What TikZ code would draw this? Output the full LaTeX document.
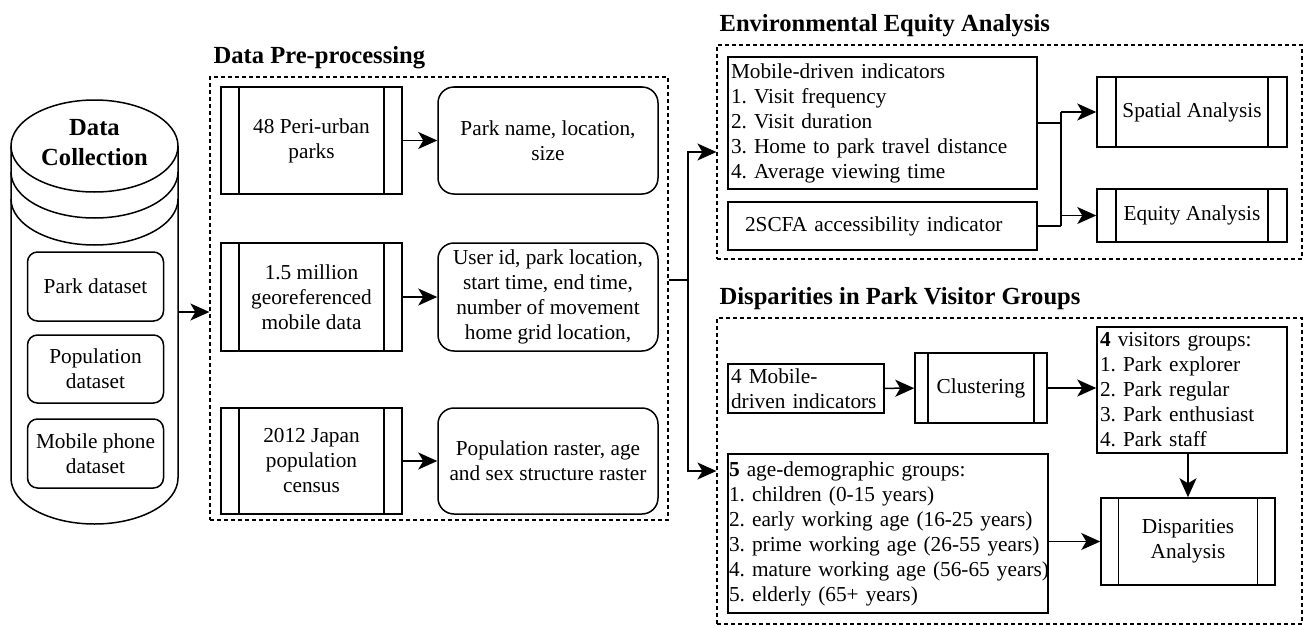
\documentclass[tikz,border=0pt]{standalone}
\usepackage{fontspec}
\setmainfont{Liberation Serif}
\usetikzlibrary{arrows.meta,positioning,calc}
\frenchspacing

\newcommand{\boxfont}{\fontsize{21.3pt}{25pt}\selectfont}
\newcommand{\grptitlefont}{\fontsize{24.6pt}{30pt}\selectfont\bfseries}

\tikzset{%
	dashgroup/.style = {draw, dash pattern=on 4pt off 3pt, line width=1.2pt, inner sep=0pt},
	grptitle/.style  = {font=\grptitlefont, anchor=base west, inner sep=0pt},
	process/.style   = {draw, rectangle, line width=1.5pt, inner sep=2pt, align=center, font=\boxfont,
		path picture={\draw[line width=1.5pt]
			([xshift=#1]path picture bounding box.north west) -- ([xshift=#1]path picture bounding box.south west)
			([xshift=-#1]path picture bounding box.north east) -- ([xshift=-#1]path picture bounding box.south east);}},
	process/.default = 18pt,
	roundbox/.style  = {draw, rectangle, rounded corners=16pt, line width=1.5pt, align=center, font=\boxfont},
	listbox/.style   = {draw, rectangle, line width=1.5pt, align=left, inner xsep=3pt, inner ysep=0pt, font=\boxfont},
	arrow/.style     = {line width=1.5pt, -{Stealth[length=19pt, width=17pt, inset=5pt]}},
}

\begin{document}
\begin{tikzpicture}[x=1pt, y=-1pt]
	\useasboundingbox (0,0) rectangle (1304,626);

	% data store
	\node[minimum width=167pt, minimum height=424pt, inner sep=0pt] (coll) at (94.5,312) {};
	\draw[line width=1.5pt] (11,146) -- (11,478) arc[start angle=180, end angle=360, x radius=83.5pt, y radius=46pt] -- (178,146);
	\draw[line width=1.5pt] (94.5,146) ellipse [x radius=83.5pt, y radius=46pt];
	\foreach \ring in {172,199}
		\draw[line width=1.5pt] (11,\ring) arc[start angle=180, end angle=360, x radius=83.5pt, y radius=46pt];
	\node[font=\grptitlefont, align=center] at (94.5,143) {Data\\Collection};
	\node[roundbox, rounded corners=10pt, minimum width=136pt, minimum height=69pt] (parkds) at (95.5,286.5) {Park dataset};
	\node[roundbox, rounded corners=10pt, minimum width=136pt, minimum height=68pt] (popds) at (95.5,369) {Population\\dataset};
	\node[roundbox, rounded corners=10pt, minimum width=136pt, minimum height=69pt] (mobds) at (95.5,453.5) {Mobile phone\\dataset};

	% pre-processing
	\node[dashgroup, minimum width=458pt, minimum height=443pt] (prep) at (439,298.5) {};
	\node[grptitle] at ([xshift=4pt, yshift=13pt]prep.north west) {Data Pre-processing};
	\node[process, minimum width=181pt, minimum height=107pt] (parks) at (311.5,140.5) {48 Peri-urban\\parks};
	\node[roundbox, minimum width=220pt, minimum height=107pt] (parkinfo) at (548,140.5) {Park name, location,\\size};
	\node[process, minimum width=181pt, minimum height=108pt] (mobile) at (311.5,297) {1.5 million\\georeferenced\\mobile data};
	\node[roundbox, minimum width=220pt, minimum height=108pt] (mobinfo) at (548,297) {User id, park location,\\start time, end time,\\number of movement\\home grid location,};
	\node[process, minimum width=181pt, minimum height=106pt] (census) at (311.5,461) {2012 Japan\\population\\census};
	\node[roundbox, minimum width=220pt, minimum height=106pt] (popinfo) at (548,461) {Population raster, age\\and sex structure raster};

	\draw[arrow] (coll.east) -- (coll.east -| prep.west);
	\draw[arrow] (parks) -- (parkinfo);
	\draw[arrow] (mobile) -- (mobinfo);
	\draw[arrow] (census) -- (popinfo);

	% environmental equity
	\node[dashgroup, minimum width=585pt, minimum height=214pt] (env) at (1009.5,152) {};
	\node[grptitle] at ([xshift=3pt, yshift=13pt]env.north west) {Environmental Equity Analysis};
	\node[listbox, text width=303pt, minimum height=132pt] (mob) at (882.5,123) {Mobile-driven indicators\\1. Visit frequency\\2. Visit duration\\3. Home to park travel distance\\4. Average viewing time};
	\node[listbox, inner xsep=17pt, text width=275pt, minimum height=48pt] (scfa) at (882.5,226) {2SCFA accessibility indicator};
	\node[process=19pt, minimum width=190pt, minimum height=70pt] (spat) at (1192,112) {Spatial Analysis};
	\node[process=19pt, minimum width=190pt, minimum height=53pt] (equ) at (1192,215.5) {Equity Analysis};

	\coordinate (join) at (1061,170);
	\draw[line width=1.5pt] (mob.east) -- (join |- mob.east);
	\draw[line width=1.5pt] (scfa.east) -- (join |- scfa.east);
	\draw[line width=1.5pt] (join |- spat.west) -- (join |- scfa.east);
	\draw[arrow] (join |- spat.west) -- (spat.west);
	\draw[arrow] (join |- equ.west) -- (equ.west);

	% visitor groups
	\node[dashgroup, minimum width=585pt, minimum height=306pt] (disp) at (1009.5,471) {};
	\node[grptitle] at ([xshift=3pt, yshift=13pt]disp.north west) {Disparities in Park Visitor Groups};
	\node[listbox, text width=150pt, minimum height=49pt] (ind) at (806,388.5) {4 Mobile-\\driven indicators};
	\node[process=13pt, minimum width=132pt, minimum height=70pt] (clus) at (981,388) {Clustering};
	\node[listbox, text width=184pt, minimum height=126pt] (vis) at (1192,390) {\textbf{4} visitors groups:\\1. Park explorer\\2. Park regular\\3. Park enthusiast\\4. Park staff};
	\node[listbox, inner xsep=1pt, text width=318pt, minimum height=159pt] (age) at (888,533.5) {\textbf{5} age-demographic groups:\\1. children (0-15 years)\\2. early working age (16-25 years)\\3. prime working age (26-55 years)\\\mbox{4. mature working age (56-65 years)}\\5. elderly (65+ years)};
	\node[process=17.5pt, minimum width=174pt, minimum height=87pt] (dis) at (1188,541.5) {Disparities\\Analysis};

	\draw[arrow] (ind) -- (clus);
	\draw[arrow] (clus.east) -- (clus.east -| vis.west);
	\draw[arrow] (vis.south -| dis.north) -- (dis.north);
	\draw[arrow] (age.east |- dis.west) -- (dis.west);

	% links between the stages
	\coordinate (split) at (688,280);
	\draw[line width=1.5pt] (prep.east |- split) -- (split);
	\draw[arrow] (split) |- (env.west);
	\draw[arrow] (split) |- (disp.west);
\end{tikzpicture}
\end{document}
